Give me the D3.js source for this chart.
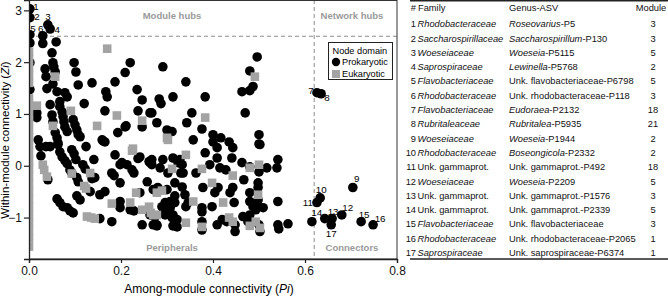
<!DOCTYPE html>
<html>
<head>
<meta charset="utf-8">
<script src="https://cdn.jsdelivr.net/npm/d3@7"></script>
<style>
  body { margin: 0; background: #fff; }
  svg { font-family: "Liberation Sans", Arial, sans-serif; display: block; }
</style>
</head>
<body>
<div id="chart"></div>
<script>
// ---- data ----
// [Pi, Zi] pairs
var keyNodes = [
  [1, 0.002, 3.03], [2, 0.002, 2.86], [3, 0.041, 2.72], [4, 0.046, 2.64],
  [5, 0.002, 2.53], [6, 0.030, 2.51], [7, 0.626, 1.41], [8, 0.635, 1.39],
  [9, 0.704, -0.42], [10, 0.633, -0.62], [11, 0.626, -0.71], [12, 0.680, -0.95],
  [13, 0.659, -1.02], [14, 0.643, -1.02], [15, 0.722, -1.08], [16, 0.748, -1.14],
  [17, 0.657, -1.14]
];

var prokaryotic = [
  [0.002,2.37],[0.030,2.36],[0.059,2.39],[0.050,2.18],[0.052,1.99],[0.054,1.91],[0.035,1.87],
  [0.037,1.72],[0.057,1.81],[0.052,1.58],[0.039,1.49],[0.061,1.43],[0.078,1.41],[0.083,1.33],
  [0.067,1.24],[0.067,1.14],[0.072,1.04],[0.074,0.95],[0.076,0.85],[0.078,0.75],[0.083,0.66],
  [0.046,1.18],[0.017,1.02],[0.017,0.93],[0.050,0.98],[0.052,0.85],[0.057,0.64],[0.061,0.54],
  [0.063,0.44],[0.096,0.89],[0.100,0.79],[0.104,0.69],[0.107,0.60],[0.111,0.56],[0.098,1.99],
  [0.102,1.81],[0.107,1.56],[0.137,1.60],[0.120,1.20],[0.246,0.75],[0.237,1.06],[0.263,1.02],
  [0.209,0.75],[0.193,0.64],[0.161,0.48],[0.165,1.06],[0.167,1.43],[0.170,1.33],[0.187,1.62],
  [0.209,1.80],[0.220,1.99],[0.235,1.47],[0.246,1.27],[0.020,0.50],[0.002,1.99],[0.002,1.47],
  [0.024,0.37],[0.037,0.37],[0.124,0.37],[0.159,0.50],[0.165,0.46],[0.211,0.77],[0.283,1.29],
  [0.287,1.20],[0.278,0.83],[0.291,1.91],[0.313,1.33],[0.300,0.69],[0.311,0.66],[0.341,1.62],
  [0.343,0.83],[0.354,1.02],[0.357,0.50],[0.376,0.71],[0.383,1.33],[0.400,0.60],[0.400,0.46],
  [0.417,0.54],[0.435,0.46],[0.443,0.35],[0.470,1.02],[0.496,2.10],[0.480,1.83],[0.463,1.43],
  [0.480,1.45],[0.487,1.53],[0.500,0.60],[0.500,0.42],[0.267,1.02],
  [0.026,0.19],[0.046,0.37],[0.063,0.41],[0.067,0.27],[0.072,0.17],[0.078,0.10],[0.083,0.04],
  [0.041,-0.27],[0.093,0.31],[0.098,0.23],[0.102,0.12],[0.089,-0.08],[0.093,-0.14],[0.104,-0.23],
  [0.107,-0.31],[0.133,-0.50],[0.137,-0.25],[0.143,-0.23],[0.117,0.02],[0.122,-0.06],[0.141,0.12],
  [0.187,0.21],[0.180,-0.14],[0.185,-0.19],[0.198,-0.33],[0.198,0.02],[0.202,0.06],[0.213,0.02],
  [0.224,-0.08],[0.228,-0.14],[0.241,0.17],[0.257,-0.31],[0.263,0.06],[0.165,-0.50],[0.154,-0.56],
  [0.104,-0.58],[0.111,-0.66],[0.061,-0.64],[0.067,-0.71],[0.074,-0.79],[0.083,-0.81],[0.089,-0.87],
  [0.096,-0.91],[0.154,-1.02],[0.180,-1.08],[0.198,-0.69],[0.198,-0.81],[0.220,-0.85],[0.228,-0.87],
  [0.246,-1.14],[0.270,-1.14],[0.237,0.14],[0.261,0.08],[0.291,0.12],[0.313,0.15],[0.328,0.12],
  [0.333,0.02],[0.285,-0.04],[0.241,-0.52],[0.270,-0.46],[0.335,-0.14],[0.333,-0.41],[0.300,-0.46],
  [0.317,-0.58],[0.307,-0.69],[0.346,-0.71],[0.278,-1.16],[0.311,-1.00],[0.313,-1.16],[0.291,-0.91],
  [0.502,0.41],[0.409,0.35],[0.383,0.25],[0.409,0.15],[0.441,0.15],[0.463,0.06],[0.480,-0.02],
  [0.500,-0.12],[0.517,-0.04],[0.541,0.12],[0.428,-0.08],[0.415,-0.04],[0.393,0.02],[0.363,-0.14],
  [0.330,-0.14],[0.324,0.06],[0.302,-0.14],[0.267,0.12],[0.267,0.02],[0.280,-0.42],[0.317,-0.33],
  [0.339,-0.56],[0.317,-0.71],[0.296,-0.71],[0.289,-0.79],[0.307,-0.81],[0.341,-0.79],[0.376,-0.81],
  [0.376,-0.89],[0.398,-0.79],[0.378,-0.42],[0.404,-0.52],[0.411,-0.42],[0.437,-0.52],[0.443,-0.42],
  [0.446,-0.71],[0.467,-0.27],[0.480,-0.52],[0.480,-0.69],[0.487,-0.79],[0.493,-0.85],[0.498,-0.33],
  [0.498,-0.42],[0.498,-0.66],[0.496,-0.75],[0.509,-0.81],[0.541,-0.69],[0.539,-0.04],[0.263,-0.95],
  [0.274,-0.98],[0.296,-0.95],[0.313,-0.95],[0.322,-1.04],[0.322,-1.18],[0.376,-1.08],[0.376,-1.24],
  [0.409,-1.14],[0.420,-1.04],[0.430,-1.08],[0.448,-1.14],[0.448,-1.27],[0.465,-0.98],[0.476,-1.08],
  [0.480,-0.95],[0.500,-1.14],[0.502,-1.27],[0.541,-1.14],[0.278,-1.14],[0.543,-1.22],[0.563,-1.12],
  [0.615,-1.08]
];

var eukaryotic = [
  [0.170,2.26],[0.057,1.72],[0.017,1.16],[0.091,1.06],[0.052,0.77],[0.148,0.77],[0.191,0.97],
  [0.246,0.87],[0.300,0.54],[0.226,0.33],[0.491,1.72],[0.383,0.93],[0.030,0.02],[0.033,-0.08],
  [0.039,-0.21],[0.093,-0.15],[0.120,-0.39],[0.124,-0.44],[0.133,-0.14],[0.224,0.29],[0.126,-0.98],
  [0.135,-1.00],[0.143,-1.02],[0.180,-0.73],[0.220,-0.71],[0.246,-0.85],[0.265,-0.91],[0.233,-0.52],
  [0.341,0.21],[0.311,-0.06],[0.289,-0.48],[0.278,-0.52],[0.357,-0.69],[0.261,-0.79],[0.278,-0.95],
  [0.341,-1.10],[0.302,0.50],[0.376,-0.06],[0.443,-0.19],[0.500,0.02],[0.480,-0.04],[0.398,-0.33],
  [0.422,-0.71],[0.498,-0.56],[0.270,-0.95],[0.376,-1.18],[0.435,-1.00],[0.443,-1.08],[0.480,-1.16],
  [0.493,-1.08],[0.502,-1.20],
  [0,2.20],[0,2.05],[0,1.90],[0,1.75],[0,1.60],[0,1.30],[0,1.15],[0,1.00],[0,0.85],[0,0.70],
  [0,0.55],[0,0.40],[0,0.25],[0,0.10],[0,-0.05],[0,-0.20],[0,-0.35],[0,-0.50],[0,-0.65],[0,-0.80],
  [0,-0.95],[0,-1.10],[0,-1.25],[0,-1.40],[0,-1.56]
];

// thresholds
var piCut = 0.62, ziCut = 2.5;

var xTicks = [0, 0.2, 0.4, 0.6, 0.8];
var yTicks = [-1, 0, 1, 2, 3];

// table
var rowNum   = [1,2,3,4,5,6,7,8,9,10,11,12,13,14,15,16,17];
var families = ["Rhodobacteraceae","Saccharospirillaceae","Woeseiaceae","Saprospiraceae",
  "Flavobacteriaceae","Rhodobacteraceae","Flavobacteriaceae","Rubritaleaceae","Woeseiaceae",
  "Rhodobacteraceae","Unk. gammaprot.","Woeseiaceae","Unk. gammaprot.","Unk. gammaprot.",
  "Flavobacteriaceae","Rhodobacteraceae","Saprospiraceae"];
var genera = ["Roseovarius-P5","Saccharospirillum-P130","Woeseia-P5115","Lewinella-P5768",
  "Unk. flavobacteriaceae-P6798","Unk. rhodobacteraceae-P118","Eudoraea-P2132","Rubritalea-P5935",
  "Woeseia-P1944","Boseongicola-P2332","Unk. gammaprot.-P492","Woeseia-P2209","Unk. gammaprot.-P1576",
  "Unk. gammaprot.-P2339","Unk. flavobacteriaceae","Unk. rhodobacteraceae-P2065","Unk. saprospiraceae-P6374"];
var modules = [3,3,5,2,5,3,18,21,2,2,18,5,3,5,3,1,1];

// ---- drawing ----
var W = 668, H = 297;
var svg = d3.select("#chart").append("svg").attr("width", W).attr("height", H);

var x = d3.scaleLinear().domain([0, 0.8]).range([29, 397]);
var y = d3.scaleLinear().domain([-1.8, 3.2]).range([259, 0]);

svg.append("clipPath").attr("id", "plotclip")
  .append("rect").attr("x", 29).attr("y", 0).attr("width", 368).attr("height", 259);

// dashed threshold lines
svg.append("line")
  .attr("x1", x(0)).attr("x2", x(0.8)).attr("y1", y(ziCut)).attr("y2", y(ziCut))
  .attr("stroke", "#8c8c8c").attr("stroke-dasharray", "4,3");
svg.append("line")
  .attr("x1", x(piCut)).attr("x2", x(piCut)).attr("y1", 0).attr("y2", y(-1.8))
  .attr("stroke", "#8c8c8c").attr("stroke-dasharray", "4,3");

// role captions
var roles = [["Module hubs", 172, 19], ["Network hubs", 352, 19], ["Peripherals", 172, 251], ["Connectors", 352, 251]];
svg.selectAll(".role").data(roles).enter().append("text")
  .attr("x", function(d) { return d[1]; })
  .attr("y", function(d) { return d[2]; })
  .attr("text-anchor", "middle")
  .attr("font-size", 9.5).attr("font-weight", "bold").attr("fill", "#9a9a9a")
  .text(function(d) { return d[0]; });

var pts = svg.append("g").attr("clip-path", "url(#plotclip)");

pts.selectAll(".prok").data(prokaryotic.concat(keyNodes.map(function(d) { return [d[1], d[2]]; })))
  .enter().append("circle")
  .attr("cx", function(d) { return x(d[0]); })
  .attr("cy", function(d) { return y(d[1]); })
  .attr("r", 4.8)
  .attr("fill", "#000");

var sq = 8.6;
pts.selectAll(".euk").data(eukaryotic).enter().append("rect")
  .attr("x", function(d) { return x(d[0]) - sq / 2; })
  .attr("y", function(d) { return y(d[1]) - sq / 2; })
  .attr("width", sq).attr("height", sq)
  .attr("fill", "#a3a3a3");

// node number labels (offset from node, in px)
var labelOffset = {1:[6,-2],2:[7,-1],3:[0,-8],4:[7,1],5:[3,-6],6:[-2,-7],7:[-6,-2],8:[6,4],
  9:[4,-9],10:[1,-8],11:[-9,0],12:[6,-7],13:[1,-7],14:[-8,-6],15:[3,-7],16:[7,-6],17:[0,9]};
svg.selectAll(".nlab").data(keyNodes).enter().append("text")
  .attr("x", function(d) { return x(d[1]) + labelOffset[d[0]][0]; })
  .attr("y", function(d) { return y(d[2]) + labelOffset[d[0]][1]; })
  .attr("dy", "0.35em")
  .attr("text-anchor", "middle")
  .attr("font-size", 9.8)
  .text(function(d) { return d[0]; });

// frame
svg.append("rect").attr("x", 29.5).attr("y", 0.5).attr("width", 367.5).attr("height", 258.5)
  .attr("fill", "none").attr("stroke", "#333").attr("stroke-width", 1);

// axes
var xAxis = d3.axisBottom(x).tickValues(xTicks).tickFormat(d3.format(".1f")).tickSize(4).tickPadding(3);
var yAxis = d3.axisLeft(y).tickValues(yTicks).tickFormat(d3.format("d")).tickSize(5).tickPadding(2);

var gx = svg.append("g").attr("transform", "translate(0,259)").call(xAxis);
var gy = svg.append("g").attr("transform", "translate(29,0)").call(yAxis);
[gx, gy].forEach(function(g) {
  g.select(".domain").attr("stroke", "#222").attr("stroke-width", 1.3);
  g.selectAll(".tick line").attr("stroke", "#222").attr("stroke-width", 1.2);
  g.selectAll("text").attr("font-size", 12).attr("fill", "#111")
    .style("font-family", "'Liberation Sans', Arial, sans-serif");
});

// axis titles
var xt = svg.append("text").attr("x", 209).attr("y", 293).attr("text-anchor", "middle").attr("font-size", 12);
xt.append("tspan").text("Among-module connectivity (");
xt.append("tspan").attr("font-style", "italic").text("Pi");
xt.append("tspan").text(")");

var yt = svg.append("text").attr("transform", "translate(9,140) rotate(-90)")
  .attr("text-anchor", "middle").attr("font-size", 11.5);
yt.append("tspan").text("Within-module connectivity (");
yt.append("tspan").attr("font-style", "italic").text("Zi");
yt.append("tspan").text(")");

// legend
var lg = svg.append("g");
lg.append("rect").attr("x", 328.5).attr("y", 42.5).attr("width", 64).attr("height", 37)
  .attr("fill", "#fff").attr("stroke", "#222");
lg.append("text").attr("x", 332.5).attr("y", 53.5).attr("font-size", 9.2).text("Node domain");
lg.append("circle").attr("cx", 336).attr("cy", 62).attr("r", 4.2).attr("fill", "#000");
lg.append("text").attr("x", 342).attr("y", 65.3).attr("font-size", 9.2).text("Prokaryotic");
lg.append("rect").attr("x", 332).attr("y", 70).attr("width", 8).attr("height", 8).attr("fill", "#a3a3a3");
lg.append("text").attr("x", 342).attr("y", 77.3).attr("font-size", 9.2).text("Eukaryotic");

// ---- table ----
var tb = svg.append("g").attr("font-size", 9.3).attr("fill", "#111");
tb.append("line").attr("x1", 410).attr("x2", 668).attr("y1", 0.7).attr("y2", 0.7).attr("stroke", "#222").attr("stroke-width", 1.4);
tb.append("line").attr("x1", 410).attr("x2", 668).attr("y1", 259).attr("y2", 259).attr("stroke", "#222").attr("stroke-width", 1.4);

tb.append("text").attr("x", 416).attr("y", 10.5).attr("text-anchor", "end").text("#");
tb.append("text").attr("x", 418).attr("y", 10.5).text("Family");
tb.append("text").attr("x", 509).attr("y", 10.5).text("Genus-ASV");
tb.append("text").attr("x", 651).attr("y", 10.5).attr("text-anchor", "middle").text("Module");

var rowY = d3.scaleLinear().domain([1, 17]).range([27.3, 256]);

rowNum.forEach(function(n, i) {
  var yy = rowY(n);
  tb.append("text").attr("x", 416).attr("y", yy).attr("text-anchor", "end").text(n);
  var fam = families[i];
  tb.append("text").attr("x", 417.5).attr("y", yy)
    .attr("font-style", fam.indexOf("Unk.") === 0 ? "normal" : "italic")
    .text(fam);
  var g = genera[i];
  var gt = tb.append("text").attr("x", 509).attr("y", yy);
  if (g.indexOf("Unk.") === 0) {
    gt.text(g);
  } else {
    var k = g.indexOf("-");
    gt.append("tspan").attr("font-style", "italic").text(g.slice(0, k));
    gt.append("tspan").text(g.slice(k));
  }
  tb.append("text").attr("x", 653).attr("y", yy).attr("text-anchor", "middle").text(modules[i]);
});
</script>
</body>
</html>
